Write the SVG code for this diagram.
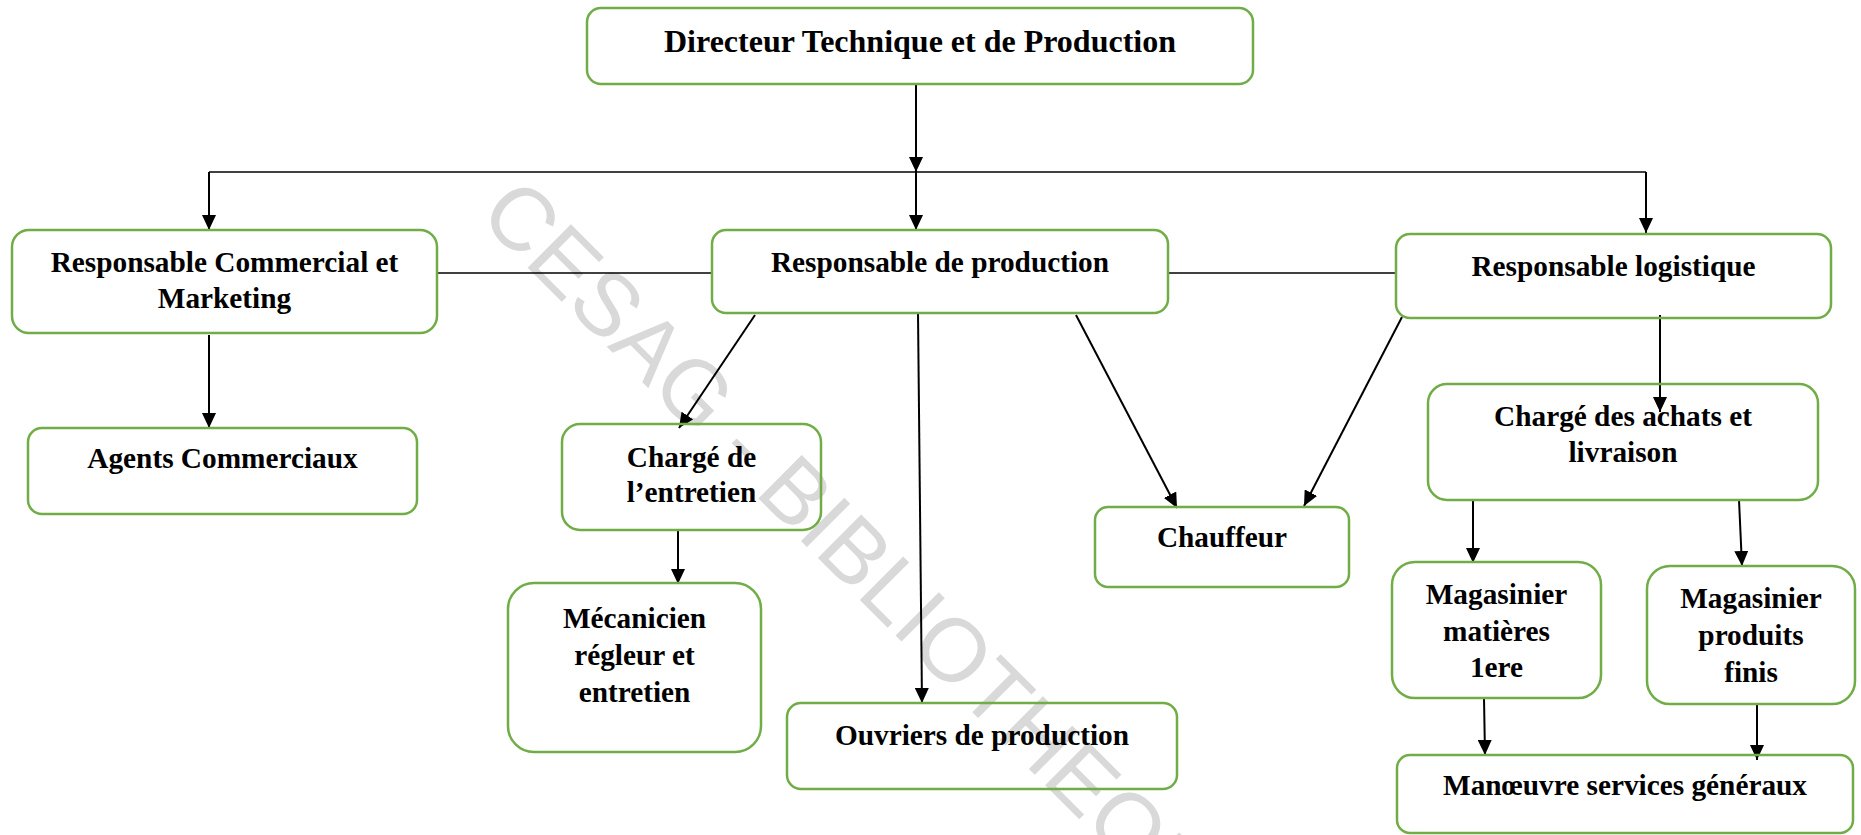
<svg xmlns="http://www.w3.org/2000/svg" width="1861" height="835" viewBox="0 0 1861 835">
<defs>
<style>
.box{fill:none;stroke:#70ad47;stroke-width:2.5}
.t{font-family:"Liberation Serif","Times New Roman",serif;font-weight:bold;font-size:29.3px;fill:#000;text-anchor:middle}
.big{font-size:32px}
.c{fill:none;stroke:#000;stroke-width:2}
.h{fill:none;stroke:#000;stroke-width:1.5}
.wm{font-family:"Liberation Sans",Arial,sans-serif;font-size:89px;fill:#d9d9d9}
</style>
<marker id="ah" markerUnits="userSpaceOnUse" markerWidth="15" markerHeight="14" refX="15" refY="7" orient="auto">
<path d="M0,0 L15,7 L0,14 z" fill="#000"/>
</marker>
</defs>
<rect x="0" y="0" width="1861" height="835" fill="#fff"/>
<text class="wm" x="477" y="217" transform="rotate(45 477 217)">CESAG - BIBLIOTHEQUE</text>

<g id="connectors">
<path class="c" d="M916,84 V172" marker-end="url(#ah)"/>
<path class="c" d="M916,172 V230" marker-end="url(#ah)"/>
<path class="h" d="M209,172 H1646"/>
<path class="c" d="M209,172 V230" marker-end="url(#ah)"/>
<path class="c" d="M1646,172 V233" marker-end="url(#ah)"/>
<path class="h" d="M437,273 H712"/>
<path class="h" d="M1168,273 H1396"/>
<path class="c" d="M209,335 V428" marker-end="url(#ah)"/>
<path class="c" d="M755,315 L679,428" marker-end="url(#ah)"/>
<path class="c" d="M678,531 V584" marker-end="url(#ah)"/>
<path class="c" d="M918,313 L922,703" marker-end="url(#ah)"/>
<path class="c" d="M1076,315 L1177,508" marker-end="url(#ah)"/>
<path class="c" d="M1402,317 L1304,506" marker-end="url(#ah)"/>
<path class="c" d="M1660,315 V412" marker-end="url(#ah)"/>
<path class="c" d="M1473,500 V563" marker-end="url(#ah)"/>
<path class="c" d="M1739,500 L1742,566" marker-end="url(#ah)"/>
<path class="c" d="M1484,698 L1485,755" marker-end="url(#ah)"/>
<path class="c" d="M1757,705 V760" marker-end="url(#ah)"/>
</g>

<g id="directeur">
<rect class="box" x="587" y="8" width="666" height="76" rx="14"/>
<text class="t big" x="920" y="52">Directeur Technique et de Production</text>
</g>
<g id="resp-commercial">
<rect class="box" x="12" y="230" width="425" height="103" rx="17"/>
<text class="t" x="224.5" y="272">Responsable Commercial et</text>
<text class="t" x="224.5" y="308">Marketing</text>
</g>
<g id="resp-production">
<rect class="box" x="712" y="230" width="456" height="83" rx="14"/>
<text class="t" x="940" y="272">Responsable de production</text>
</g>
<g id="resp-logistique">
<rect class="box" x="1396" y="234" width="435" height="84" rx="14"/>
<text class="t" x="1613.5" y="276">Responsable logistique</text>
</g>
<g id="agents">
<rect class="box" x="28" y="428" width="389" height="86" rx="14"/>
<text class="t" x="222.5" y="468">Agents Commerciaux</text>
</g>
<g id="charge-entretien">
<rect class="box" x="562" y="424" width="259" height="106" rx="18"/>
<text class="t" x="691.5" y="467">Chargé de</text>
<text class="t" x="691.5" y="502">l’entretien</text>
</g>
<g id="mecanicien">
<rect class="box" x="508" y="583" width="253" height="169" rx="26"/>
<text class="t" x="634.5" y="628">Mécanicien</text>
<text class="t" x="634.5" y="665">régleur et</text>
<text class="t" x="634.5" y="702">entretien</text>
</g>
<g id="ouvriers">
<rect class="box" x="787" y="703" width="390" height="86" rx="14"/>
<text class="t" x="982" y="745">Ouvriers de production</text>
</g>
<g id="chauffeur">
<rect class="box" x="1095" y="507" width="254" height="80" rx="13"/>
<text class="t" x="1222" y="547">Chauffeur</text>
</g>
<g id="charge-achats">
<rect class="box" x="1428" y="384" width="390" height="116" rx="19"/>
<text class="t" x="1623" y="426">Chargé des achats et</text>
<text class="t" x="1623" y="462">livraison</text>
</g>
<g id="mag-matieres">
<rect class="box" x="1392" y="562" width="209" height="136" rx="23"/>
<text class="t" x="1496.5" y="604">Magasinier</text>
<text class="t" x="1496.5" y="641">matières</text>
<text class="t" x="1496.5" y="677">1ere</text>
</g>
<g id="mag-produits">
<rect class="box" x="1647" y="566" width="208" height="138" rx="23"/>
<text class="t" x="1751" y="608">Magasinier</text>
<text class="t" x="1751" y="645">produits</text>
<text class="t" x="1751" y="682">finis</text>
</g>
<g id="manoeuvre">
<rect class="box" x="1397" y="755" width="456" height="78" rx="13"/>
<text class="t" x="1625" y="795">Manœuvre services généraux</text>
</g>
</svg>
